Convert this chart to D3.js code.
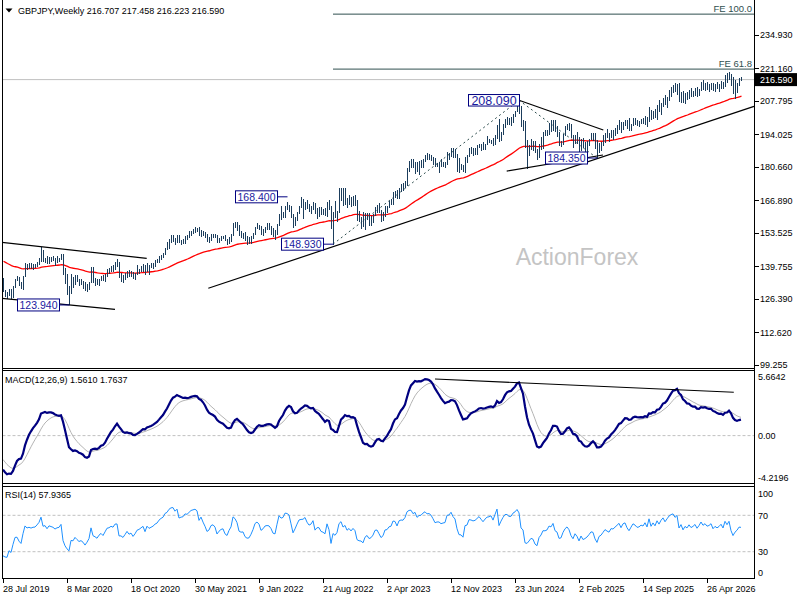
<!DOCTYPE html>
<html><head><meta charset="utf-8">
<script src="https://cdn.jsdelivr.net/npm/d3@7/dist/d3.min.js"></script>
<style>
html,body{margin:0;padding:0;background:#fff;}
svg{display:block;font-family:"Liberation Sans",Arial,sans-serif;}
</style></head><body>
<svg id="c" width="800" height="600"></svg>
<script>
// ---------------- DATA (weekly GBPJPY) ----------------
const high = [
135.0,130.2,129.4,130.4,130.5,131.9,134.8,135.7,135.3,133.2,
135.8,141.2,140.7,141.2,141.1,140.8,140.6,141.4,143.3,147.95,
146.5,143.2,144.0,143.8,143.6,144.0,143.3,144.0,143.4,145.0,
144.9,139.3,136.6,131.6,136.6,135.4,136.2,136.4,134.5,134.8,
133.7,133.2,132.6,133.5,139.7,139.5,135.0,134.6,134.7,135.8,
136.1,136.7,138.9,139.3,140.1,140.4,141.4,142.7,141.5,136.9,
136.4,137.0,137.8,138.3,137.9,137.3,137.2,140.3,138.8,139.8,
140.6,140.2,141.0,140.4,141.1,141.0,142.3,142.7,144.1,144.6,
145.1,147.2,150.0,151.0,152.5,152.7,151.6,152.5,152.5,150.5,
151.0,152.4,152.7,154.4,154.4,155.1,156.0,155.6,156.0,154.6,
154.2,153.9,153.0,151.8,153.2,153.2,153.2,152.5,151.4,152.2,
152.3,152.6,151.2,152.0,153.2,157.7,158.2,158.1,157.0,154.4,
153.7,154.0,152.3,151.8,152.2,153.4,155.8,157.8,157.0,156.2,
155.2,156.0,157.7,157.5,156.5,155.6,154.9,157.1,161.5,164.5,
162.3,164.8,166.2,165.2,164.7,161.4,160.2,162.2,164.5,168.4,
167.3,166.2,167.0,165.5,164.6,166.4,166.0,163.7,164.4,164.4,
163.4,163.7,166.2,166.9,164.6,162.0,166.5,162.7,172.1,172.0,
172.1,172.0,167.9,169.2,168.5,168.9,169.0,166.9,162.4,160.3,
162.0,161.8,161.8,161.6,160.7,161.4,164.2,165.1,166.0,162.9,
162.1,164.6,164.7,166.6,167.6,170.4,170.8,171.2,172.0,173.5,
173.9,174.8,180.4,183.1,184.0,184.0,182.7,182.8,183.2,183.6,
183.9,185.5,186.4,186.2,185.6,184.9,184.2,182.4,182.9,183.8,
182.6,182.6,186.9,186.3,188.5,188.6,188.0,186.0,184.3,181.9,
181.6,184.8,185.4,188.6,188.9,188.3,188.3,189.5,190.3,190.3,
190.9,190.1,193.5,192.0,191.8,192.4,193.7,198.0,200.6,195.0,
198.2,200.6,201.1,200.7,201.4,202.5,203.6,206.0,208.09,205.8,
199.9,199.6,191.6,189.8,192.0,191.2,191.3,188.1,190.2,193.0,
195.0,195.8,195.8,198.7,200.0,199.9,199.9,197.7,195.2,191.5,
194.4,197.4,198.3,198.9,198.2,194.0,194.0,195.0,192.9,192.0,
192.4,190.8,191.2,192.2,194.5,194.8,194.6,191.9,190.6,191.0,
193.9,194.6,196.4,194.6,195.9,195.8,196.5,197.8,199.8,199.0,
199.0,199.8,200.0,201.0,198.5,200.7,200.9,199.9,199.6,200.5,
200.9,201.8,201.4,205.5,204.2,203.8,204.6,206.2,208.2,207.0,
209.2,210.3,209.5,212.4,213.5,214.5,215.2,214.7,215.0,211.6,
211.8,211.0,211.3,212.5,213.0,212.0,213.3,213.5,212.8,215.5,
216.4,215.0,215.7,214.6,215.4,215.3,214.6,215.6,214.9,215.9,
215.8,218.5,219.2,219.9,219.0,217.8,216.4,215.2,217.1,217.458];
const low = [
129.3,127.5,126.6,127.7,126.6,127.0,131.2,133.9,131.9,130.6,
130.4,135.5,138.4,138.8,138.9,138.7,139.2,139.9,140.7,141.8,
142.0,141.3,140.9,141.1,141.9,142.2,140.0,141.4,141.9,142.5,
136.6,132.6,128.4,123.94,128.6,131.0,132.5,133.4,131.9,132.5,
130.9,130.0,129.3,130.5,133.0,133.3,132.0,132.4,131.8,133.8,
133.8,133.6,135.6,136.7,137.7,137.8,138.6,139.6,135.1,133.6,
133.0,134.3,135.4,135.6,135.6,134.7,134.4,136.3,136.9,137.6,
137.7,136.5,137.9,136.6,139.4,138.9,139.9,141.2,141.4,142.8,
143.4,144.6,146.6,147.0,149.8,150.2,149.0,149.8,149.5,148.6,
149.3,149.3,151.0,151.7,152.5,153.5,153.9,154.2,152.6,152.0,
152.6,151.6,150.1,149.5,150.5,151.5,151.8,149.6,149.5,150.6,
151.1,150.4,148.9,149.2,150.1,152.4,155.6,154.6,152.5,151.8,
151.4,150.6,148.9,149.4,149.4,151.1,152.8,155.2,155.0,153.1,
152.7,153.8,155.0,155.1,152.9,152.1,150.9,152.8,156.6,158.9,
159.7,160.0,163.2,162.2,159.9,155.6,156.8,158.6,161.5,164.2,
159.6,163.3,163.7,162.3,161.5,163.2,161.6,159.6,160.2,161.0,
161.2,160.7,160.5,163.2,155.5,148.93,159.8,158.3,161.9,166.9,
165.0,165.2,164.2,165.4,164.6,165.0,165.0,158.6,158.4,155.4,
156.0,155.0,159.2,156.6,156.6,157.9,160.8,162.0,161.9,158.2,
158.5,160.3,161.9,164.0,165.1,165.1,168.2,167.6,167.8,170.5,
171.0,172.4,173.0,178.8,180.4,180.4,178.0,178.9,177.4,180.4,
180.6,183.0,183.6,183.8,183.2,181.8,181.0,180.7,178.5,180.8,
181.0,180.6,181.6,183.6,185.0,184.6,184.6,178.9,178.3,179.5,
178.9,178.4,182.5,184.8,186.4,185.2,185.8,186.0,188.5,187.6,
188.0,187.9,189.9,190.7,190.2,189.5,190.0,192.2,191.0,191.4,
194.0,196.8,198.2,198.0,197.6,198.8,201.3,203.5,202.8,197.5,
195.5,188.6,180.0,185.3,188.0,187.4,186.7,183.8,184.4,187.9,
188.2,193.6,193.5,194.0,195.3,195.5,195.2,193.0,189.6,188.9,
189.9,193.5,196.2,195.5,192.7,188.8,190.5,190.4,187.1,187.6,
188.6,187.0,187.2,189.3,191.9,191.6,188.4,184.35,186.6,187.4,
189.4,190.7,192.7,191.3,192.6,192.0,193.8,194.5,196.0,195.0,
196.1,197.6,196.5,195.5,195.6,197.8,198.3,197.6,197.2,198.4,
198.6,198.2,197.5,199.4,200.0,200.8,201.0,200.3,203.5,202.3,
205.5,206.2,205.0,207.8,209.5,211.2,211.5,210.6,207.6,207.1,
207.2,206.9,208.4,209.0,209.5,209.5,210.2,209.8,209.9,212.0,
212.6,212.3,212.4,211.9,212.6,212.3,211.8,212.8,211.6,213.0,
212.9,213.8,215.6,216.8,214.0,211.0,209.0,211.4,214.0,216.223];
const close = [
129.4,128.3,127.9,130.0,128.6,131.5,134.5,134.6,132.4,131.0,
135.6,140.5,139.4,139.9,139.5,140.0,140.1,141.3,142.8,146.4,
142.6,143.0,141.6,143.3,143.0,142.7,142.0,142.6,142.8,144.2,
137.0,133.4,130.9,129.2,134.1,133.8,135.6,134.2,132.9,133.3,
132.3,130.4,131.6,133.2,139.1,134.4,133.7,132.7,134.4,135.4,
134.2,136.2,138.4,138.7,139.6,139.2,141.0,141.1,135.6,135.6,
134.8,136.1,137.6,136.3,136.8,135.3,136.4,138.0,138.4,139.1,
139.8,137.9,140.4,139.6,140.1,140.6,141.5,142.0,143.4,144.3,
144.9,147.1,147.8,150.0,151.2,151.4,150.6,152.0,149.8,150.3,
150.5,152.1,152.0,153.1,154.3,154.7,155.1,154.8,152.8,154.3,
153.1,152.0,150.5,151.0,152.6,152.9,152.3,150.3,151.2,151.8,
152.0,150.6,150.1,151.6,152.8,157.4,156.9,155.8,153.0,152.6,
152.7,151.0,150.4,150.5,151.6,153.2,155.7,156.4,155.8,153.9,
154.5,155.6,155.8,155.7,155.0,153.7,153.5,156.8,161.3,160.6,
161.0,163.8,163.7,163.3,160.8,157.5,159.3,161.8,164.4,164.8,
164.9,166.0,164.5,163.5,164.0,165.8,162.4,163.6,163.6,162.2,
161.9,161.3,165.8,163.5,155.8,161.4,160.2,162.0,168.9,170.8,
167.5,168.9,165.8,167.2,165.6,167.5,166.1,159.5,158.5,158.3,
156.8,160.1,161.2,159.0,159.5,161.0,164.0,164.2,162.1,159.7,
160.7,164.2,164.4,166.2,166.6,170.3,170.1,168.1,171.8,172.5,
172.4,174.5,180.0,181.7,181.9,180.6,181.9,180.0,181.5,181.8,
183.7,184.9,184.2,184.5,184.0,182.9,181.6,182.0,182.0,181.5,
181.8,182.0,185.6,185.8,187.5,186.4,185.8,182.9,180.7,180.6,
179.7,184.6,184.9,188.0,187.9,187.6,187.9,188.9,190.0,189.3,
188.6,189.9,190.9,191.1,191.6,190.6,193.5,197.4,191.9,194.8,
197.7,200.3,200.3,199.6,199.7,202.3,203.4,205.7,204.6,198.4,
197.4,188.7,188.2,189.5,191.0,190.4,186.8,185.4,189.8,191.4,
194.3,194.2,194.8,197.4,197.0,199.4,195.6,194.8,190.8,191.1,
194.3,196.7,198.0,196.5,192.9,190.8,193.8,192.1,188.7,191.7,
189.0,189.6,190.5,191.9,193.6,193.3,189.3,186.7,190.0,190.8,
192.5,194.3,193.5,192.9,195.0,194.8,195.9,197.0,198.2,196.4,
198.7,199.3,197.3,196.0,197.9,199.9,199.4,198.5,198.7,199.6,
199.3,200.9,199.5,204.1,201.2,203.3,202.1,205.4,204.0,206.7,
208.6,207.0,209.2,211.6,212.9,213.6,212.3,213.9,208.4,210.8,
208.0,210.4,209.6,211.8,210.4,211.2,212.5,210.7,212.4,214.9,
213.4,214.5,213.4,213.8,214.9,212.8,214.1,213.5,214.2,215.4,
214.0,217.8,216.5,218.6,214.5,211.8,213.7,214.8,216.7,216.59];

const dateLabels = ["28 Jul 2019","8 Mar 2020","18 Oct 2020","30 May 2021","9 Jan 2022","21 Aug 2022",
  "2 Apr 2023","12 Nov 2023","23 Jun 2024","2 Feb 2025","14 Sep 2025","26 Apr 2026"];
const dateStep = 32; // bars between date labels
const priceTicks = [234.930,221.160,207.795,194.025,180.660,166.890,153.525,139.755,126.390,112.620,99.255];
const macdTicks = [5.6642, 0.00, -4.2196];
const rsiTicks = [100, 70, 30, 0];
const rsiLevels = [70, 30];
const lastPrice = 216.590;
const headerText = "GBPJPY,Weekly  216.707 217.458 216.223 216.590";
const macdTitle = "MACD(12,26,9) 1.5610 1.7637";
const rsiTitle = "RSI(14) 57.9365";
const watermark = "ActionForex";

// pivot labels: bar index, price, text
const pivots = [
  {i:33,  v:123.94, t:"123.940", fs:10.5, gap:10},
  {i:142, v:168.40, t:"168.400", fs:10.5, gap:10},
  {i:165, v:148.93, t:"148.930", fs:10.5, gap:10},
  {i:258, v:208.09, t:"208.090", fs:12.5, gap:0},
  {i:297, v:184.35, t:"184.350", fs:10.5, gap:10}
];
// Fibonacci expansion points
const feA = {i:165, v:148.93}, feB = {i:258, v:208.09}, feC = {i:297, v:184.35};
const feRatios = [1.0, 0.618];
const feNames = ["FE 100.0", "FE 61.8"];
// trend lines (bar index, price)
const trendLines = [
  [{i:-0.65, v:149.7}, {i:71.85, v:143.1}],
  [{i:-0.65, v:126.68}, {i:56, v:122.15}],
  [{i:102.65, v:130.79}, {i:375.5, v:205.6}],
  [{i:251.85, v:179.0}, {i:300, v:185.6}],
  [{i:258, v:208.09}, {i:300.15, v:195.87}]
];
const macdTrend = [{i:216, v:5.04}, {i:365.4, v:3.86}];

// indicator state before the first visible bar
const seedEma12 = 134.9, seedEma26 = 137.7, seedSignal = -1.9;
const seedMa55 = 142.4;
const seedPrevClose = 134.8, seedAvgGain = 0.45, seedAvgLoss = 0.9;

// ---------------- INDICATORS ----------------
function ema(src, n, seed){ const a = 2/(n+1); let e = seed; return src.map(v => (e = e + (v - e)*a)); }
const e12 = ema(close, 12, seedEma12), e26 = ema(close, 26, seedEma26);
const macd = close.map((c,i) => e12[i] - e26[i]);
const signal = ema(macd, 9, seedSignal);
const ma = ema(close, 55, seedMa55);
let ag = seedAvgGain, al = seedAvgLoss, pc = seedPrevClose;
const rsi = close.map(c => { const d = c - pc; pc = c; ag = (ag*13 + Math.max(d,0))/14; al = (al*13 + Math.max(-d,0))/14; return 100 - 100/(1 + ag/al); });

// ---------------- SCALES ----------------
const svg = d3.select("#c");
const X0 = 2.5, X1 = 754.5;
const x = d3.scaleLinear().domain([0, 352]).range([3, 707]);
const y = d3.scaleLinear().domain([99.255, 234.93]).range([365, 35]);
const ym = d3.scaleLinear().domain([-4.2196, 5.6642]).range([483, 372]);
const yr = d3.scaleLinear().domain([0, 100]).range([579, 488]);
const idx = d3.range(close.length);

const defs = svg.append("defs");
function clip(id, y0, y1){ defs.append("clipPath").attr("id", id).append("rect").attr("x", X0).attr("y", y0).attr("width", X1 - X0).attr("height", y1 - y0); }
clip("cm", 0, 368); clip("cd", 370.5, 483); clip("cr", 486.5, 578.5);

// ---------------- MAIN PANEL ----------------
const gm = svg.append("g").attr("clip-path", "url(#cm)");
gm.append("text").attr("x", 577).attr("y", 265).attr("text-anchor", "middle")
  .attr("font-size", 23).attr("fill", "#c4c4c4").text(watermark);

gm.append("line").attr("x1", X0).attr("x2", X1).attr("y1", y(lastPrice)).attr("y2", y(lastPrice))
  .attr("stroke", "#c0c0c0").attr("stroke-width", 1);

// FE levels
const feRange = feB.v - feA.v;
feRatios.forEach((r, k) => {
  const lv = feC.v + r*feRange;
  gm.append("line").attr("x1", x(feA.i)).attr("x2", X1).attr("y1", y(lv)).attr("y2", y(lv))
    .attr("stroke", "#2f4f4f").attr("stroke-width", 1);
  gm.append("text").attr("x", 752).attr("y", y(lv) - 2.5).attr("text-anchor", "end")
    .attr("font-size", 9.5).attr("fill", "#2f4f4f").text(feNames[k]);
});
gm.append("path").attr("d", d3.line().x(d => x(d.i)).y(d => y(d.v))([feA, feB, feC]))
  .attr("fill", "none").attr("stroke", "#2f4f4f").attr("stroke-width", 1).attr("stroke-dasharray", "2,3");

// moving average
gm.append("path").attr("d", d3.line().x(i => x(i) + 0.5).y(i => y(ma[i]))(idx))
  .attr("fill", "none").attr("stroke", "#ff0000").attr("stroke-width", 1.3);

// bars
gm.append("g").selectAll("line").data(idx).join("line")
  .attr("x1", i => x(i) + 0.5).attr("x2", i => x(i) + 0.5)
  .attr("y1", i => y(high[i])).attr("y2", i => y(low[i]) + 0.5)
  .attr("stroke", "#1b3d5c").attr("stroke-width", 1).attr("shape-rendering", "crispEdges");

// trend lines
trendLines.forEach(tl => {
  gm.append("line").attr("x1", x(tl[0].i)).attr("y1", y(tl[0].v)).attr("x2", x(tl[1].i)).attr("y2", y(tl[1].v))
    .attr("stroke", "#000").attr("stroke-width", 1.2);
});

// pivot labels
pivots.forEach(p => {
  const w = p.fs > 11 ? 51 : 42, h = p.fs > 11 ? 11.5 : 12;
  const xr = x(p.i) + 0.5 - p.gap, yc = y(p.v);
  if (p.gap > 0) gm.append("line").attr("x1", xr).attr("x2", x(p.i) + 0.5).attr("y1", yc).attr("y2", yc)
    .attr("stroke", "#000080").attr("stroke-width", 1);
  gm.append("rect").attr("x", xr - w).attr("y", yc - h/2).attr("width", w).attr("height", h)
    .attr("fill", "#fff").attr("stroke", "#000080").attr("stroke-width", 1);
  gm.append("text").attr("x", xr - w/2).attr("y", yc + p.fs*0.36).attr("text-anchor", "middle")
    .attr("font-size", p.fs).attr("fill", "#1a1aa0").text(p.t);
});

// header
svg.append("path").attr("d", "M5.5,8.5 L12.5,8.5 L9,12.5 Z").attr("fill", "#000");
svg.append("text").attr("x", 18).attr("y", 13.5).attr("font-size", 9).attr("fill", "#000").text(headerText);

// ---------------- MACD PANEL ----------------
const gd = svg.append("g").attr("clip-path", "url(#cd)");
gd.append("line").attr("x1", X0).attr("x2", X1).attr("y1", ym(0)).attr("y2", ym(0))
  .attr("stroke", "#c0c0c0").attr("stroke-dasharray", "3,2");
gd.append("path").attr("d", d3.line().x(i => x(i)).y(i => ym(signal[i]))(idx))
  .attr("fill", "none").attr("stroke", "#b4b4b4").attr("stroke-width", 1);
gd.append("path").attr("d", d3.line().x(i => x(i)).y(i => ym(macd[i]))(idx))
  .attr("fill", "none").attr("stroke", "#000080").attr("stroke-width", 2.2);
gd.append("line").attr("x1", x(macdTrend[0].i)).attr("y1", ym(macdTrend[0].v)).attr("x2", x(macdTrend[1].i)).attr("y2", ym(macdTrend[1].v))
  .attr("stroke", "#000").attr("stroke-width", 1.2);
svg.append("text").attr("x", 5).attr("y", 383).attr("font-size", 9).attr("fill", "#000").text(macdTitle);

// ---------------- RSI PANEL ----------------
const gr = svg.append("g").attr("clip-path", "url(#cr)");
rsiLevels.forEach(l => gr.append("line").attr("x1", X0).attr("x2", X1).attr("y1", yr(l)).attr("y2", yr(l))
  .attr("stroke", "#c0c0c0").attr("stroke-dasharray", "3,2"));
gr.append("path").attr("d", d3.line().x(i => x(i)).y(i => yr(rsi[i]))(idx))
  .attr("fill", "none").attr("stroke", "#1e90ff").attr("stroke-width", 1);
svg.append("text").attr("x", 5).attr("y", 498).attr("font-size", 9).attr("fill", "#000").text(rsiTitle);

// ---------------- FRAME & AXES ----------------
const frame = svg.append("g").attr("stroke", "#000").attr("stroke-width", 1).attr("shape-rendering", "crispEdges");
frame.append("line").attr("x1", X0).attr("x2", X0).attr("y1", 0).attr("y2", 579);
frame.append("line").attr("x1", X1).attr("x2", X1).attr("y1", 0).attr("y2", 579);
[368.5, 370.5, 483.5, 486.5, 578.5].forEach(v => frame.append("line").attr("x1", X0).attr("x2", X1).attr("y1", v).attr("y2", v));

// price axis
priceTicks.forEach(v => {
  frame.append("line").attr("x1", X1).attr("x2", X1 + 4).attr("y1", Math.round(y(v)) + 0.5).attr("y2", Math.round(y(v)) + 0.5);
  svg.append("text").attr("x", 760).attr("y", y(v) + 3.3).attr("font-size", 9).attr("fill", "#000").text(v.toFixed(3));
});
svg.append("rect").attr("x", 755).attr("y", y(lastPrice) - 6.5).attr("width", 42).attr("height", 13).attr("fill", "#000");
svg.append("text").attr("x", 760).attr("y", y(lastPrice) + 3.3).attr("font-size", 9).attr("fill", "#fff").text(lastPrice.toFixed(3));

// indicator axes
macdTicks.forEach((v, k) => {
  const off = k === 0 ? 5 : (k === macdTicks.length - 1 ? -5.5 : 0);
  svg.append("text").attr("x", 758).attr("y", ym(v) + off + 3.3).attr("font-size", 9).attr("fill", "#000")
    .text(v === 0 ? "0.00" : v.toFixed(4));
});
rsiTicks.forEach((v, k) => {
  const off = k === 0 ? 6 : (k === rsiTicks.length - 1 ? -6.5 : 0);
  svg.append("text").attr("x", 758).attr("y", yr(v) + off + 3.3).attr("font-size", 9).attr("fill", "#000").text(v);
});

// date axis
dateLabels.forEach((t, k) => {
  const xi = x(k*dateStep);
  frame.append("line").attr("x1", Math.round(xi) + 0.5).attr("x2", Math.round(xi) + 0.5).attr("y1", 579).attr("y2", 583);
  svg.append("text").attr("x", xi).attr("y", 592).attr("font-size", 9).attr("fill", "#000").text(t);
});
</script>
</body></html>
